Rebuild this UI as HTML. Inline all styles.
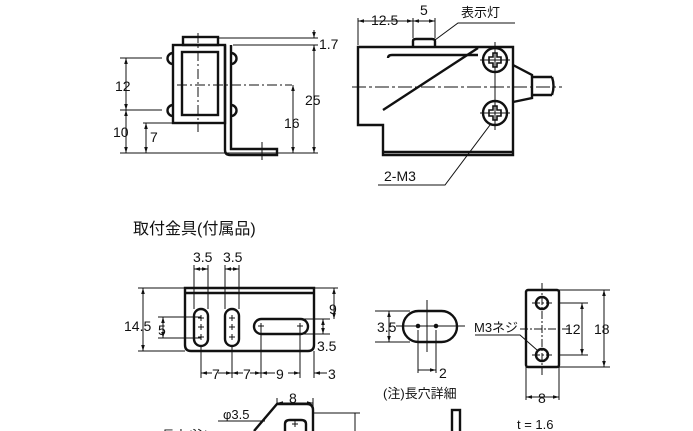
<!DOCTYPE html>
<html><head><meta charset="utf-8"><style>
html,body{margin:0;padding:0;background:#fff;}
svg{display:block;}
text{font-family:"Liberation Sans","Noto Sans CJK JP",sans-serif;fill:#111;}
</style></head><body>
<svg width="693" height="431" viewBox="0 0 693 431" xmlns="http://www.w3.org/2000/svg">
<defs>
<marker id="a" viewBox="0 0 10 10" refX="10" refY="5" markerWidth="6" markerHeight="6" orient="auto-start-reverse"><path d="M0,2 L10,5 L0,8z" fill="#111"/></marker>
</defs>
<g stroke="#111" fill="none">
<g stroke-width="2.4">
<rect x="183" y="37" width="35" height="8"/>
<rect x="173" y="45" width="52" height="78"/>
<rect x="182" y="52" width="36" height="63"/>
<path d="M225,45 V150 Q225,155 230,155 H277 V149 H231 V45"/>
<path d="M173,53 A5.5,5.5 0 0 0 173,64"/><path d="M173,105 A5.5,5.5 0 0 0 173,116"/>
<path d="M231,53 A5.5,5.5 0 0 1 231,64"/><path d="M231,105 A5.5,5.5 0 0 1 231,116"/>
</g>
<g stroke-width="1">
<path d="M198,33 V132" stroke-dasharray="10,3,2,3"/>
<path d="M177,85 H292" stroke-dasharray="10,3,2,3"/>
<path d="M262,142 V160"/>
<path d="M120,153 H318 M120,58 H162 M120,110 H162 M143,123 H173 M218,38 H318 M233,45 H318"/>
<path d="M126,58 V110" marker-start="url(#a)" marker-end="url(#a)"/>
<path d="M126,110 V153" marker-start="url(#a)" marker-end="url(#a)"/>
<path d="M146,123 V153" marker-start="url(#a)" marker-end="url(#a)"/>
<path d="M293,85 V153" marker-start="url(#a)" marker-end="url(#a)"/>
<path d="M314,45 V153" marker-end="url(#a)"/>
<path d="M314,30 V38" marker-end="url(#a)"/>
<path d="M314,53 V45" marker-end="url(#a)"/>
</g>
<g stroke-width="2.4">
<path d="M358,47 H513 V155 H383 V125 H358 Z"/>
<path d="M478,48 L383,110"/>
<path d="M478,55 H392 Q388,55 388,58"/>
<path d="M383,152 H513"/>
<path d="M413,47 V41 Q413,39 416,39 H432 Q435,39 435,41 V47"/>
<circle cx="495" cy="60" r="12"/><circle cx="495" cy="113" r="12"/>
<path d="M513,65 L532,75 V98 L513,102"/>
<path d="M532,77 H552 M532,95 H552"/>
<path d="M552,77 Q555,86 552,95"/>
</g>
<g stroke-width="1.6">
<path d="M489,57 h4 v-4 h4 v4 h4 v6 h-4 v4 h-4 v-4 h-4z"/>
<path d="M489,110 h4 v-4 h4 v4 h4 v6 h-4 v4 h-4 v-4 h-4z"/>
</g>
<g stroke-width="1">
<path d="M352,87 H562" stroke-dasharray="14,3,3,3"/>
<path d="M495,42 V130 M480,60 H510 M480,113 H510"/>
<path d="M358,18 V45 M413,18 V38 M435,18 V38"/>
<path d="M358,21 H413" marker-start="url(#a)" marker-end="url(#a)"/>
<path d="M413,21 H435" marker-start="url(#a)" marker-end="url(#a)"/>
<path d="M435,40 L458,23 H515"/>
<path d="M378,185 H445 L490,125"/>
</g>
<g stroke-width="2.4">
<path d="M185,288 H314 V345 Q314,351 308,351 H191 Q185,351 185,345 Z"/>
<path d="M185,293 H314"/>
<rect x="194" y="309" width="14" height="37" rx="7"/>
<rect x="225" y="309" width="14" height="37" rx="7"/>
<rect x="254" y="319" width="54" height="15" rx="7.5"/>
<path d="M254,431 L277,404 H307 Q313,404 313,410 V431"/>
<path d="M285,431 V424 Q285,420 290,420 H301 Q306,420 306,424 V431"/>
</g>
<g stroke-width="1">
<path d="M198,318 h6 M201,315 v6 M198,327 h6 M201,324 v6 M198,337 h6 M201,334 v6"/>
<path d="M229,318 h6 M232,315 v6 M229,327 h6 M232,324 v6 M229,337 h6 M232,334 v6"/>
<path d="M258,326 h6 M261,323 v6 M297,326 h6 M300,323 v6 M292,424 h6 M295,421 v6"/>
<path d="M194,265 V309 M208,265 V309 M225,265 V309 M239,265 V309"/>
<path d="M194,269 H208" marker-start="url(#a)" marker-end="url(#a)"/>
<path d="M225,269 H239" marker-start="url(#a)" marker-end="url(#a)"/>
<path d="M138,288 H185 M138,351 H185 M158,317 H201 M158,338 H201 M314,288 H338 M300,319 H330 M300,334 H330"/>
<path d="M143,288 V351" marker-start="url(#a)" marker-end="url(#a)"/>
<path d="M163,317 V338" marker-start="url(#a)" marker-end="url(#a)"/>
<path d="M334,288 V319" marker-start="url(#a)" marker-end="url(#a)"/>
<path d="M323,319 V334" marker-start="url(#a)" marker-end="url(#a)"/>
<path d="M201,346 V378 M232,346 V378 M261,326 V378 M300,326 V378 M314,351 V378"/>
<path d="M201,373 H212 M218,373 H232 M232,373 H243 M250,373 H261 M261,373 H275 M288,373 H300 M314,373 H327" />
<path d="M206,373 H201" marker-end="url(#a)"/><path d="M226,373 H232" marker-end="url(#a)"/>
<path d="M237,373 H232" marker-end="url(#a)"/><path d="M255,373 H261" marker-end="url(#a)"/>
<path d="M266,373 H261" marker-end="url(#a)"/><path d="M294,373 H300" marker-end="url(#a)"/>
<path d="M320,373 H314" marker-end="url(#a)"/>
<path d="M277,398 V404 M313,398 V410"/>
<path d="M277,403 H313" marker-start="url(#a)" marker-end="url(#a)"/>
<path d="M218,421 H265 M313,413 H360 M355,413 V431"/>
</g>
<g stroke-width="2.4"><rect x="403" y="311" width="54" height="31" rx="15.5"/><rect x="452" y="410" width="8" height="25"/></g>
<g stroke-width="1">
<path d="M427,300 V352 M396,326 H465"/>
<circle cx="418" cy="326" r="1.8" fill="#111"/><circle cx="436" cy="326" r="1.8" fill="#111"/>
<path d="M375,311 H410 M375,342 H410"/>
<path d="M389,311 V342" marker-start="url(#a)" marker-end="url(#a)"/>
<path d="M418,330 V373 M436,330 V373"/>
<path d="M418,370 H436" marker-end="url(#a)"/>
</g>
<g stroke-width="2.4">
<rect x="526" y="290" width="33" height="77" rx="2"/>
<circle cx="542" cy="303" r="6"/><circle cx="542" cy="355" r="6"/>
</g>
<g stroke-width="1">
<path d="M542,283 V375 M520,329 H570 M532,303 H552 M532,355 H552" stroke-dasharray="8,2,2,2"/>
<path d="M559,303 H588 M559,355 H588 M559,290 H610 M559,367 H610"/>
<path d="M582,303 V355" marker-start="url(#a)" marker-end="url(#a)"/>
<path d="M604,290 V367" marker-start="url(#a)" marker-end="url(#a)"/>
<path d="M475,335 H520 L537,350"/>
<path d="M526,367 V400 M559,367 V400"/>
<path d="M526,397 H559" marker-start="url(#a)" marker-end="url(#a)"/>
</g>
</g>
<g font-size="14">
<text x="319" y="49">1.7</text>
<text x="115" y="91">12</text>
<text x="305" y="105">25</text>
<text x="284" y="128">16</text>
<text x="113" y="137">10</text>
<text x="150" y="142">7</text>
<text x="371" y="25">12.5</text>
<text x="420" y="15">5</text>
<text x="461" y="17" font-size="13">表示灯</text>
<text x="384" y="181">2-M3</text>
<text x="133" y="234" font-size="16">取付金具(付属品)</text>
<text x="193" y="262">3.5</text>
<text x="223" y="262">3.5</text>
<text x="124" y="331">14.5</text>
<text x="158" y="335">5</text>
<text x="329" y="314">9</text>
<text x="317" y="351">3.5</text>
<text x="212" y="379">7</text>
<text x="243" y="379">7</text>
<text x="276" y="379">9</text>
<text x="328" y="379">3</text>
<text x="289" y="403">8</text>
<text x="223" y="419" font-size="13">φ3.5</text>
<text x="150" y="440" font-size="13">2-長穴(注)</text>
<text x="377" y="332">3.5</text>
<text x="439" y="378">2</text>
<text x="383" y="398" font-size="13">(注)長穴詳細</text>
<text x="474" y="332" font-size="13">M3ネジ</text>
<text x="565" y="334">12</text>
<text x="594" y="334">18</text>
<text x="538" y="403">8</text>
<text x="517" y="429" font-size="13">t = 1.6</text>
</g>
</svg>
</body></html>
